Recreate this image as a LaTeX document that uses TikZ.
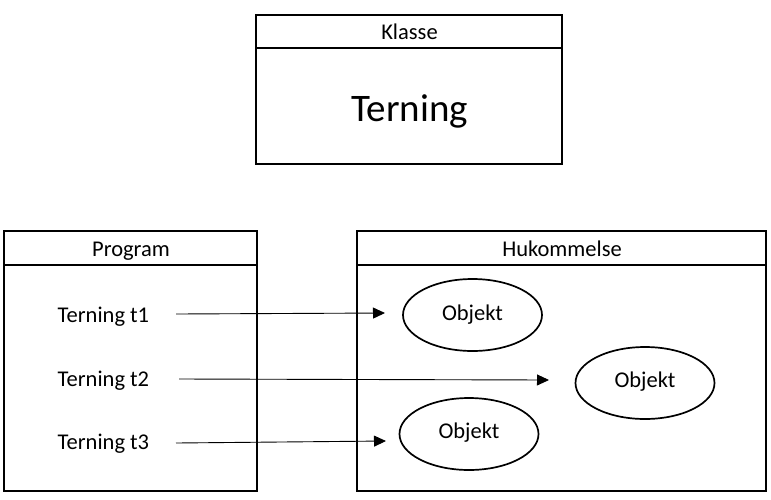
\documentclass[tikz,border=0pt]{standalone}
\usepackage{fontspec}
\setmainfont{Carlito}
\usetikzlibrary{arrows.meta,shapes.geometric}
\begin{document}
\begin{tikzpicture}[x=1pt,y=-1pt,
  frame/.style={draw,line width=2pt,rectangle,inner sep=0pt},
  lbl/.style={font=\fontsize{22.5}{27}\selectfont,inner sep=0pt,anchor=base},
  obj/.style={draw,ellipse,line width=1.7pt,inner sep=0pt,minimum width=139pt,minimum height=72pt},
  arr/.style={line width=0.9pt,-{Triangle[length=12pt,width=11pt]}}]
\useasboundingbox (0,0) rectangle (771,499);
% top class box
\node[frame,minimum width=306pt,minimum height=149pt] (klasse) at (409,89.5) {};
\draw[line width=2pt] (klasse.west |- 0,48) -- (klasse.east |- 0,48);
\node[lbl] (klassetxt) at (409.5,39) {Klasse};
\node[inner sep=0pt,anchor=base,font=\fontsize{39}{46}\selectfont] (terning) at (409.5,121) {Terning};
% program box
\node[frame,minimum width=253pt,minimum height=260pt] (program) at (130.5,361) {};
\draw[line width=2pt] (program.west |- 0,265) -- (program.east |- 0,265);
\node[lbl] (programtxt) at (131,256) {Program};
\node[lbl,anchor=base west] (t1) at (57.5,322) {Terning t1};
\node[lbl,anchor=base west] (t2) at (57.5,386) {Terning t2};
\node[lbl,anchor=base west] (t3) at (57.5,449) {Terning t3};
% memory box
\node[frame,minimum width=409pt,minimum height=260pt] (mem) at (561.5,361) {};
\draw[line width=2pt] (mem.west |- 0,265) -- (mem.east |- 0,265);
\node[lbl] (memtxt) at (562,256) {Hukommelse};
\node[obj] (o1) at (472.5,315) {};
\node[obj] (o2) at (645,383) {};
\node[obj] (o3) at (469,434) {};
\node[lbl] (o1t) at (o1.center |- 0,320) {Objekt};
\node[lbl] (o2t) at (o2.center |- 0,387) {Objekt};
\node[lbl] (o3t) at (o3.center |- 0,438) {Objekt};
% arrows
\coordinate (s1) at (176,314);
\coordinate (e1) at (385,313);
\coordinate (s2) at (179,379);
\coordinate (e2) at (549,380);
\coordinate (s3) at (176,443);
\coordinate (e3) at (386,441);
\draw[arr] (s1) -- (e1);
\draw[arr] (s2) -- (e2);
\draw[arr] (s3) -- (e3);
\end{tikzpicture}
\end{document}
